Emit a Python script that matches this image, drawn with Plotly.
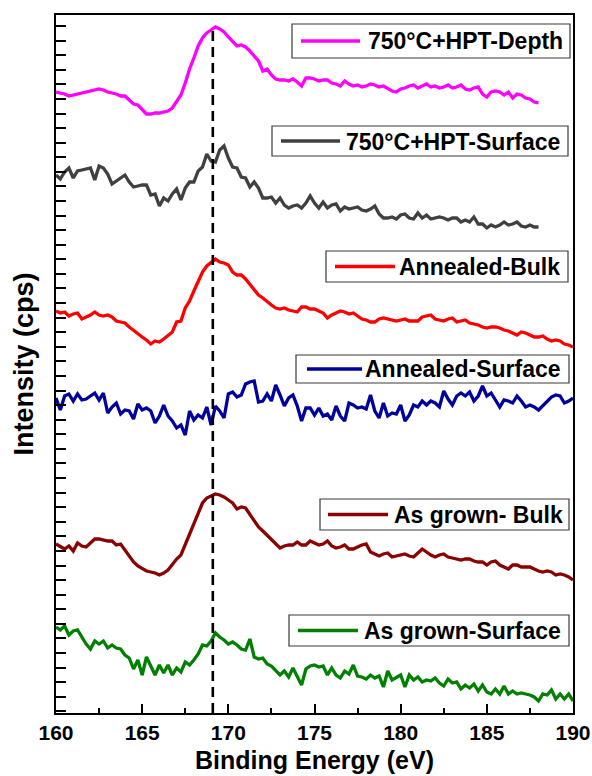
import plotly.graph_objects as go

# ---------------- data ----------------
energy_full = [round(160 + 0.25 * i, 2) for i in range(121)]   # 160 .. 190 eV
energy_hpt = energy_full[:113]                                  # 160 .. 188 eV

hpt_depth = [
    621, 620, 619, 617, 618, 619, 620, 621, 622, 623,
    624, 623, 621, 620, 619, 617, 617, 613, 609, 608,
    603, 599, 599, 600, 600, 601, 602, 605, 611, 618,
    630, 644, 655, 667, 675, 680, 683, 686, 684, 681,
    676, 672, 667, 668, 666, 662, 657, 652, 642, 644,
    638, 634, 633, 633, 632, 634, 631, 627, 635, 635,
    634, 632, 633, 633, 630, 629, 627, 632, 629, 627,
    628, 626, 627, 629, 628, 626, 627, 624, 622, 621,
    624, 625, 627, 628, 625, 627, 629, 626, 627, 625,
    626, 628, 625, 626, 628, 624, 623, 625, 626, 619,
    616, 621, 622, 621, 618, 621, 615, 619, 618, 615,
    614, 611, 610]

hpt_surface = [
    538, 534, 541, 545, 535, 542, 543, 544, 545, 533,
    547, 545, 539, 529, 532, 536, 538, 531, 526, 527,
    528, 528, 518, 519, 507, 515, 512, 519, 524, 513,
    525, 531, 531, 542, 546, 559, 552, 551, 563, 567,
    555, 546, 545, 536, 535, 526, 531, 525, 515, 515,
    516, 510, 515, 508, 505, 507, 508, 505, 510, 517,
    510, 505, 511, 505, 508, 509, 502, 506, 504, 505,
    506, 503, 502, 504, 507, 499, 495, 495, 496, 494,
    498, 499, 495, 494, 500, 495, 498, 494, 495, 496,
    495, 493, 495, 495, 491, 493, 491, 496, 489, 489,
    485, 488, 486, 488, 491, 488, 489, 491, 487, 486,
    488, 486, 486]

annealed_bulk = [
    402, 400, 401, 397, 399, 400, 394, 396, 398, 401,
    398, 397, 398, 396, 392, 391, 390, 386, 383, 380,
    376, 373, 369, 372, 371, 374, 378, 381, 391, 392,
    405, 412, 422, 432, 441, 447, 450, 454, 451, 450,
    448, 441, 438, 438, 434, 429, 423, 418, 415, 411,
    408, 405, 404, 405, 403, 402, 401, 406, 406, 404,
    404, 402, 400, 395, 398, 400, 402, 401, 399, 400,
    397, 394, 393, 391, 391, 394, 395, 394, 393, 392,
    393, 394, 392, 392, 392, 396, 397, 398, 394, 393,
    392, 394, 395, 391, 392, 393, 390, 389, 388, 386,
    385, 386, 386, 385, 383, 382, 380, 378, 381, 380,
    378, 376, 376, 377, 374, 372, 373, 372, 369, 368,
    366]

annealed_surface = [
    315, 303, 317, 319, 312, 319, 313, 314, 317, 320,
    313, 320, 300, 306, 310, 299, 303, 302, 294, 309,
    303, 305, 302, 290, 297, 308, 297, 292, 285, 288,
    278, 302, 293, 298, 295, 306, 288, 307, 302, 295,
    319, 321, 316, 318, 329, 331, 332, 311, 312, 319,
    312, 328, 318, 307, 315, 318, 307, 292, 305, 305,
    298, 305, 297, 299, 293, 307, 297, 292, 310, 308,
    305, 306, 304, 318, 302, 295, 310, 297, 300, 299,
    308, 292, 298, 308, 306, 312, 308, 312, 310, 306,
    322, 314, 308, 317, 320, 317, 321, 312, 317, 327,
    317, 320, 313, 306, 313, 312, 310, 317, 312, 306,
    308, 306, 303, 307, 312, 316, 318, 317, 310, 312,
    315]

asgrown_bulk = [
    169, 166, 164, 167, 162, 170, 167, 166, 170, 174,
    174, 173, 172, 172, 168, 169, 163, 156, 151, 147,
    144, 142, 141, 140, 138, 140, 143, 149, 154, 158,
    168, 178, 189, 199, 210, 215, 217, 219, 218, 216,
    213, 210, 204, 206, 205, 199, 193, 186, 182, 178,
    174, 169, 165, 167, 168, 168, 171, 168, 168, 172,
    170, 168, 169, 172, 167, 165, 166, 168, 164, 164,
    166, 168, 169, 161, 159, 157, 159, 160, 156, 157,
    158, 159, 157, 156, 160, 164, 161, 158, 156, 158,
    159, 156, 155, 154, 153, 154, 154, 152, 151, 151,
    148, 151, 152, 148, 146, 144, 148, 148, 146, 146,
    146, 144, 142, 141, 142, 141, 138, 139, 138, 136,
    133]

asgrown_surface = [
    86, 83, 87, 78, 82, 83, 76, 69, 64, 72,
    69, 72, 65, 68, 65, 64, 58, 55, 44, 53,
    38, 56, 47, 38, 48, 40, 48, 38, 45, 41,
    51, 48, 53, 59, 68, 67, 72, 80, 76, 73,
    69, 71, 68, 64, 63, 74, 56, 54, 55, 49,
    47, 43, 38, 42, 36, 45, 37, 28, 44, 47,
    48, 46, 47, 38, 45, 38, 35, 42, 39, 48,
    37, 36, 34, 38, 35, 37, 26, 42, 33, 36,
    38, 26, 38, 33, 36, 31, 33, 32, 35, 30,
    27, 34, 30, 31, 24, 28, 25, 29, 22, 28,
    21, 19, 24, 19, 27, 19, 22, 19, 20, 19,
    18, 16, 12, 19, 18, 23, 14, 19, 14, 19,
    12]

labels = ["750\u00b0C+HPT-Depth", "750\u00b0C+HPT-Surface", "Annealed-Bulk",
          "Annealed-Surface", "As grown- Bulk", "As grown-Surface"]
colors = ["#FF00FF", "#404040", "#FF0000", "#00009C", "#8B0000", "#008000"]
xs = [energy_hpt, energy_hpt, energy_full, energy_full, energy_full, energy_full]
ys = [hpt_depth, hpt_surface, annealed_bulk, annealed_surface, asgrown_bulk, asgrown_surface]

PEAK_BE = 169.1
DASH_TOP = 688

x_ticks = [160, 165, 170, 175, 180, 185, 190]

# ---------------- layout geometry (pixels) ----------------
W, H = 592, 776
L, R, T, B = 56, 573, 15, 713

def pxx(x):
    return (x - L) / (R - L)

def pxy(y):
    return (B - y) / (B - T)

# legend boxes: left, top, right, bottom, line x0, line x1, text right
legend_boxes = [
    (292, 24, 570, 58, 301, 360, 565),
    (272, 126, 568, 156, 281, 340, 562),
    (326, 251, 568, 282, 335, 395, 562),
    (296, 355, 569, 383, 307, 362, 563),
    (320, 499, 569, 530, 328, 388, 565),
    (289, 615, 569, 646, 298, 358, 563),
]

FONT = "Liberation Sans, Arial, Helvetica, sans-serif"

fig = go.Figure()
for lab, col, x, y in zip(labels, colors, xs, ys):
    fig.add_trace(go.Scatter(x=x, y=y, mode="lines", name=lab,
                             line=dict(color=col, width=3.3), showlegend=False))

fig.add_trace(go.Scatter(x=[PEAK_BE, PEAK_BE], y=[0, DASH_TOP], mode="lines",
                         line=dict(color="black", width=2.6, dash="10px,6px"),
                         showlegend=False))

shapes = []
annotations = []
for (lab, col, box) in zip(labels, colors, legend_boxes):
    l, t, r, b, lx0, lx1, tr = box
    shapes.append(dict(type="rect", xref="paper", yref="paper",
                       x0=pxx(l), x1=pxx(r), y0=pxy(b), y1=pxy(t),
                       line=dict(color="#3a3a3a", width=1.2), fillcolor="white",
                       layer="above"))
    cy = (t + b) / 2
    shapes.append(dict(type="line", xref="paper", yref="paper",
                       x0=pxx(lx0), x1=pxx(lx1), y0=pxy(cy), y1=pxy(cy),
                       line=dict(color=col, width=3.3), layer="above"))
    annotations.append(dict(text="<b>%s</b>" % lab, xref="paper", yref="paper",
                            x=pxx(tr), y=pxy(cy + 0.5), xanchor="right", yanchor="middle",
                            showarrow=False, font=dict(family=FONT, size=23, color="black")))

fig.update_layout(
    width=W, height=H,
    margin=dict(l=L, r=W - R, t=T, b=H - B, autoexpand=False),
    paper_bgcolor="white", plot_bgcolor="white",
    shapes=shapes, annotations=annotations,
    font=dict(family=FONT, color="black"),
    showlegend=False,
)

fig.update_xaxes(
    range=[160, 190], tickmode="array", tickvals=x_ticks,
    ticktext=["<b>%d</b>" % v for v in x_ticks],
    ticks="inside", ticklen=9, tickwidth=2, tickcolor="black",
    minor=dict(ticks="inside", dtick=2.5, ticklen=5, tickwidth=2, tickcolor="black"),
    showline=True, linewidth=2, linecolor="black", mirror=True,
    showgrid=False, zeroline=False, automargin=False,
    tickfont=dict(family=FONT, size=21, color="black"),
    title=dict(text="<b>Binding Energy (eV)</b>", font=dict(family=FONT, size=25, color="black"),
               standoff=8),
)
fig.update_yaxes(
    range=[0, B - T], tick0=1.7, dtick=14.58, showticklabels=False,
    ticks="inside", ticklen=10, tickwidth=2, tickcolor="black",
    showline=True, linewidth=2, linecolor="black", mirror=True,
    showgrid=False, zeroline=False, automargin=False,
    title=dict(text="<b>Intensity (cps)</b>", font=dict(family=FONT, size=27, color="black"),
               standoff=13),
)

fig.write_html("out.html")
